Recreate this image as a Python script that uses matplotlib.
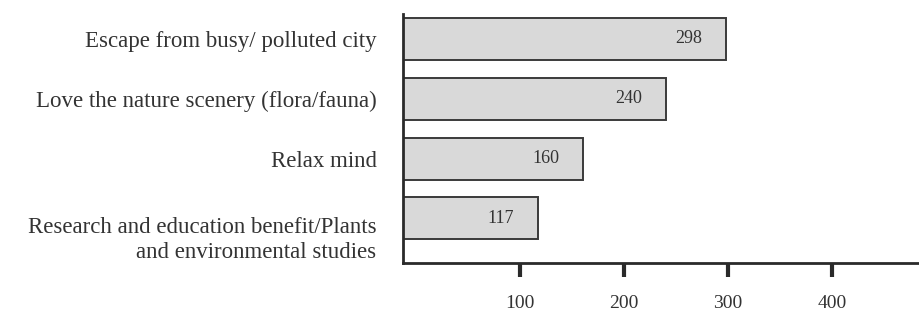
"""Horizontal bar chart: reasons for visiting."""

import matplotlib.pyplot as plt
import matplotlib.transforms as mtransforms

plt.rcParams["font.family"] = ["Liberation Serif", "DejaVu Serif"]

reasons = [
    "Escape from busy/ polluted city",
    "Love the nature scenery (flora/fauna)",
    "Relax mind",
    "Research and education benefit/Plants\nand environmental studies",
]
counts = [298, 240, 160, 117]
x_ticks = [100, 200, 300, 400]

X_MIN, X_MAX = -13, 484
BAR_FILL = "#d9d9d9"
EDGE = "#3a3a3a"


def main():
    fig = plt.figure(figsize=(9.19, 3.10), dpi=100)
    ax = fig.add_axes([0.4385, 0.152, 0.5615, 0.803])

    n = len(reasons)
    ypos = [n - 1 - i for i in range(n)]
    # bars are drawn from the left spine, like the original
    ax.barh(ypos, [c - X_MIN for c in counts], left=X_MIN, height=0.7,
            color=BAR_FILL, edgecolor=EDGE, linewidth=1.4, zorder=2)

    for y, c in zip(ypos, counts):
        ax.annotate(str(c), xy=(c, y), xytext=(-17, 0), textcoords="offset points",
                    ha="right", va="center", fontsize=13, color="#333333")

    ax.set_xlim(X_MIN, X_MAX)
    ax.set_ylim(-0.74, n - 1 + 0.41)

    ax.set_yticks(ypos)
    labels = ax.set_yticklabels(reasons, fontsize=16.5, color="#333333",
                                linespacing=1.27)
    ax.tick_params(axis="y", length=0, pad=19)
    # two-line label sits with its first line on the bar, block hangs below
    for lab in labels:
        if "\n" in lab.get_text():
            shift = mtransforms.ScaledTranslation(0, -12 / 72, fig.dpi_scale_trans)
            lab.set_transform(lab.get_transform() + shift)

    ax.set_xticks(x_ticks)
    ax.set_xticklabels([str(t) for t in x_ticks], fontsize=14, color="#333333")
    ax.tick_params(axis="x", direction="out", length=10, width=3,
                   color="#2a2a2a", pad=13)

    for side in ("top", "right"):
        ax.spines[side].set_visible(False)
    for side in ("left", "bottom"):
        ax.spines[side].set_color("#2a2a2a")
        ax.spines[side].set_linewidth(2)

    fig.savefig("out.png", dpi=100)
    plt.close(fig)


if __name__ == "__main__":
    main()
